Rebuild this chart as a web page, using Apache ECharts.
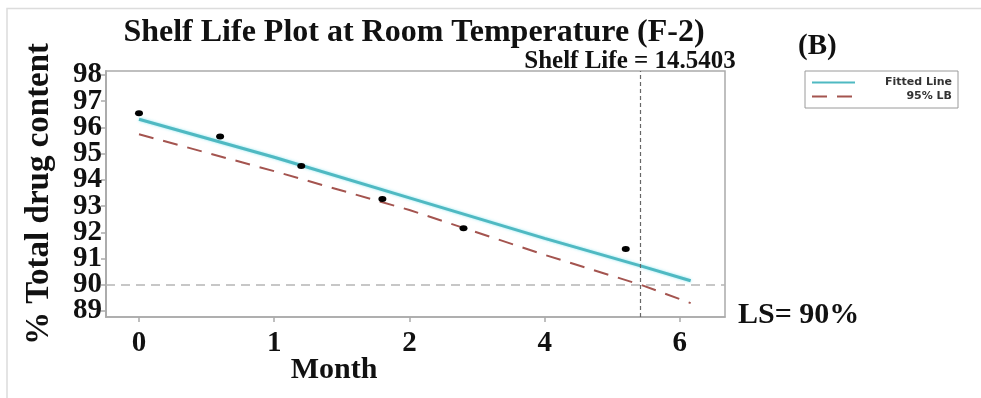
<!DOCTYPE html>
<html>
<head>
<meta charset="utf-8">
<script src="https://cdn.jsdelivr.net/npm/echarts@6/dist/echarts.min.js"></script>
<style>
  html, body { margin: 0; padding: 0; background: #fff; }
  #chart { width: 981px; height: 398px; }
</style>
</head>
<body>
<div id="chart"></div>
<script>
// Month axis: tick positions along the axis and the labels printed under them
const monthTickPos = [0, 1, 2, 3, 4];
const monthTickLabels = ['0', '1', '2', '4', '6'];
// Drug content ticks (%)
const contentTicks = [89, 90, 91, 92, 93, 94, 95, 96, 97, 98];

// Observed assay results
const obsPos = [0, 0.6, 1.2, 1.8, 2.4, 3.6];
const obsContent = [96.54, 95.65, 94.53, 93.27, 92.15, 91.36];

// Regression fit
const fitPos = [0, 1, 2, 3, 3.71, 4.08];
const fitContent = [96.31, 94.86, 93.31, 91.77, 90.72, 90.15];

// One-sided 95% lower confidence bound
const lbPos = [0, 1, 2, 3, 3.71, 4.08];
const lbContent = [95.74, 94.33, 92.85, 91.14, 90.0, 89.3];

// Specification limit and estimated shelf life
const specLimit = 90;
const shelfLifePos = 3.71;
const shelfLifeText = 'Shelf Life = 14.5403';

const serif = '"Liberation Serif", "Times New Roman", serif';
const pairs = (xs, ys) => xs.map((x, i) => [x, ys[i]]);

// The tall bold tick labels sit closer than their own height, so even and odd
// ticks are drawn by two stacked y axes to keep every label visible.
const evenTicks = contentTicks.filter(v => v % 2 === 0);
const oddTicks = contentTicks.filter(v => v % 2 === 1);
const yMin = 88.77, yMax = 98.15;

function contentAxis(ticks, withName) {
  return {
    type: 'value',
    position: 'left',
    min: yMin, max: yMax,
    name: withName ? '% Total drug content' : '',
    nameLocation: 'middle',
    nameGap: 50,
    nameTextStyle: { fontFamily: serif, fontWeight: 'bold', fontSize: 33, color: '#111' },
    splitLine: { show: false },
    axisLine: { show: true, onZero: false, lineStyle: { color: '#ababab', width: 1.5 } },
    axisTick: { show: true, length: 5, customValues: ticks, lineStyle: { color: '#ababab', width: 1.5 } },
    axisLabel: {
      customValues: ticks,
      showMinLabel: true, showMaxLabel: true,
      fontFamily: serif, fontWeight: 'bold', fontSize: 29, color: '#111', margin: 4
    }
  };
}

const chart = echarts.init(document.getElementById('chart'), null, { renderer: 'canvas' });

chart.setOption({
  animation: false,
  backgroundColor: '#fff',
  grid: {
    left: 106, right: 256, top: 71, bottom: 81,
    show: true, borderColor: '#ababab', borderWidth: 1.5
  },
  xAxis: {
    type: 'value',
    min: -0.244, max: 4.334,
    splitLine: { show: false },
    axisLine: { onZero: false, lineStyle: { color: '#ababab', width: 1.5 } },
    axisTick: { show: true, length: 5, customValues: monthTickPos, lineStyle: { color: '#ababab', width: 1.5 } },
    axisLabel: {
      customValues: monthTickPos,
      formatter: v => monthTickLabels[monthTickPos.indexOf(Math.round(v))],
      fontFamily: serif, fontWeight: 'bold', fontSize: 29, color: '#111', margin: 12
    }
  },
  yAxis: [contentAxis(evenTicks, true), contentAxis(oddTicks, false)],
  legend: {
    data: ['Fitted Line', '95% LB'],
    orient: 'vertical',
    left: 805, top: 71,
    itemWidth: 43, itemHeight: 10, itemGap: 3,
    padding: [6, 6, 6, 6],
    borderColor: '#9a9a9a', borderWidth: 1,
    itemStyle: { opacity: 0 },
    formatter: n => '{t|' + n + '}',
    textStyle: {
      rich: {
        t: { width: 92, align: 'right', fontFamily: '"DejaVu Sans", sans-serif', fontWeight: 'bold', fontSize: 11, color: '#333' }
      }
    }
  },
  series: [
    {
      name: 'Fitted Line',
      type: 'line',
      data: pairs(fitPos, fitContent),
      symbol: 'none',
      lineStyle: { color: '#4fb9c2', width: 3, shadowColor: 'rgba(140,230,240,0.9)', shadowBlur: 3 },
      itemStyle: { color: '#4fb9c2' },
      z: 3,
      markLine: {
        silent: true,
        symbol: 'none',
        label: { show: false },
        data: [
          { yAxis: specLimit, lineStyle: { color: '#b5b5b5', type: [9, 6], width: 1.5 } },
          { xAxis: shelfLifePos, lineStyle: { color: '#666', type: [4, 3], width: 1.2 } }
        ]
      }
    },
    {
      name: '95% LB',
      type: 'line',
      data: pairs(lbPos, lbContent),
      symbol: 'none',
      lineStyle: { color: '#a4544f', width: 2, type: [15, 10] },
      itemStyle: { color: '#a4544f' },
      z: 2
    },
    {
      name: 'Observed',
      type: 'scatter',
      data: pairs(obsPos, obsContent),
      symbol: 'circle',
      symbolSize: [8, 6],
      itemStyle: { color: '#000', opacity: 1 },
      z: 4
    }
  ],
  graphic: [
    {
      type: 'polyline', silent: true,
      shape: { points: [[7, 420], [7, 8.5], [1000, 8.5]] },
      style: { stroke: '#dcdcdc', lineWidth: 1.5, fill: null }
    },
    {
      type: 'text', x: 414, y: 33,
      style: { text: 'Shelf Life Plot at Room Temperature (F-2)', font: 'bold 32px ' + serif, fill: '#111', textAlign: 'center', textVerticalAlign: 'middle' }
    },
    {
      type: 'text', x: 630, y: 62,
      style: { text: shelfLifeText, font: 'bold 25px ' + serif, fill: '#111', textAlign: 'center', textVerticalAlign: 'middle' }
    },
    {
      type: 'text', x: 798, y: 47,
      style: { text: '(B)', font: 'bold 29px ' + serif, fill: '#111', textAlign: 'left', textVerticalAlign: 'middle' }
    },
    {
      type: 'text', x: 738, y: 315,
      style: { text: 'LS= 90%', font: 'bold 30px ' + serif, fill: '#111', textAlign: 'left', textVerticalAlign: 'middle' }
    },
    {
      type: 'text', x: 334, y: 370,
      style: { text: 'Month', font: 'bold 30px ' + serif, fill: '#111', textAlign: 'center', textVerticalAlign: 'middle' }
    }
  ]
});
</script>
</body>
</html>
